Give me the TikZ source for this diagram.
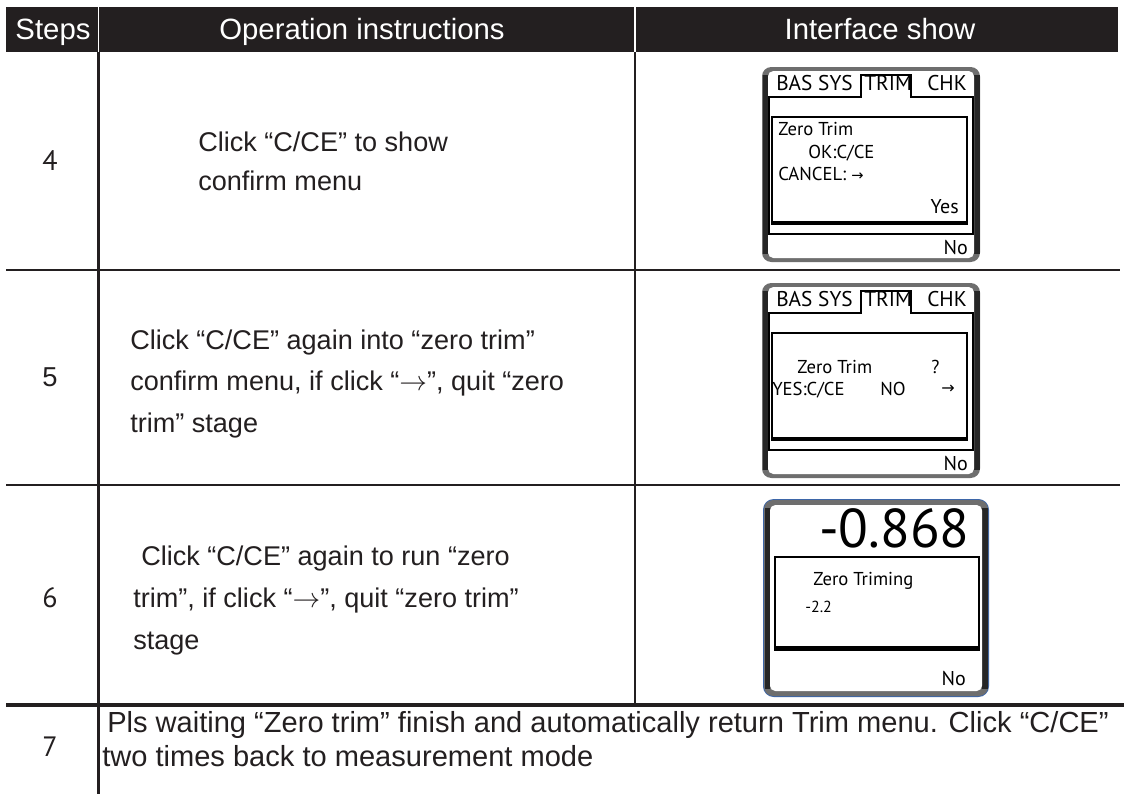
\documentclass[tikz,border=0pt]{standalone}
\usepackage{fontspec}
\setmainfont{Liberation Sans}
\newfontfamily\pan{PT Sans}
\newfontfamily\arr{DejaVu Sans}
\definecolor{ink}{HTML}{231F20}
\definecolor{frameD}{HTML}{262626}
\definecolor{frameG}{HTML}{6E6E6E}
\definecolor{frameB}{HTML}{3D66A8}
\newcommand{\rar}{$\rightarrow$}
\tikzset{
  rule/.style={draw=ink, line width=1.6pt},
  hd/.style={text=white, font=\fontsize{22}{24}\selectfont, anchor=base, inner sep=0pt},
  body/.style={text=ink, font=\fontsize{20.3}{24}\selectfont, anchor=base west, inner sep=0pt},
  wide/.style={text=ink, font=\fontsize{21.8}{24}\selectfont, anchor=base west, inner sep=0pt},
  num/.style={text=ink, font=\pan\fontsize{21}{24}\selectfont, anchor=base, inner sep=0pt},
  tabt/.style={font=\pan\fontsize{16}{18}\selectfont, anchor=base west, inner sep=0pt},
  dlg/.style={font=\pan\fontsize{14}{16}\selectfont, anchor=base west, inner sep=0pt},
  dlge/.style={font=\pan\fontsize{15}{16}\selectfont, anchor=base east, inner sep=0pt},
  thinl/.style={draw=black, line width=0.8pt},
}
\begin{document}
\begin{tikzpicture}[x=0.75pt,y=-0.75pt]
\useasboundingbox (0,0) rectangle (1124,794);
\fill[white] (0,0) rectangle (1124,794);

% header
\fill[ink] (6,7) rectangle (1118,52);
\draw[white, line width=0.9pt] (98.5,7) -- (98.5,52);
\draw[white, line width=0.9pt] (635,7) -- (635,52);
\node[hd] (hsteps) at (53,39) {Steps};
\node[hd] (hops) at (362,39) {Operation instructions};
\node[hd] (hint) at (880,39) {Interface show};

% grid
\draw[rule] (6,270) -- (1120,270);
\draw[rule] (6,485) -- (1120,485);
\draw[draw=ink, line width=2.3pt] (6,705) -- (1124,705);
\draw[rule] (98.5,52) -- (98.5,794);
\draw[rule] (635,52) -- (635,705);

% step numbers
\node[num] (n4) at (50,170) {4};
\node[num, font=\fontsize{20.5}{24}\selectfont] (n5) at (50,386) {5};
\node[num] (n6) at (50,607) {6};
\node[num] (n7) at (50,756) {7};

% instructions
\node[body] (t4a) at (198,151) {Click “C/CE” to show};
\node[body] (t4b) at (198,190) {confirm menu};
\node[body] (t5a) at (130,349) {Click “C/CE” again into “zero trim”};
\node[body] (t5b) at (130,390) {confirm menu, if click “\rar”, quit “zero};
\node[body] (t5c) at (130,432) {trim” stage};
\node[body] (t6a) at (141,565) {Click “C/CE” again to run “zero};
\node[body] (t6b) at (133,607) {trim”, if click “\rar”, quit “zero trim”};
\node[body] (t6c) at (133,649) {stage};
\node[wide] (t7a) at (107,732) {Pls waiting “Zero trim” finish and automatically return Trim menu. Click “C/CE”};
\node[wide] (t7b) at (102,766) {two times back to measurement mode};

% ---- panel 1 and panel 2 (same frame) ----
\foreach \dy in {0,216} {
\begin{scope}[shift={(0,\dy)}]
  \fill[frameG, rounded corners=7] (762,67) rectangle (980,262);
  \fill[frameD] (762.5,75) rectangle (768,254);
  \fill[frameD] (974,75) rectangle (979.5,254);
  \fill[white, rounded corners=4] (768,71) rectangle (974,258);
  \draw[thinl] (911,97) -- (911,75) -- (861,75) -- (861,97) -- (769,97) -- (769,234) -- (973,234) -- (973,97) -- cycle;
  \draw[thinl] (772,117) rectangle (967,224);
  \draw[black, line width=2.4pt] (771,223) -- (968,223);
  \draw[black, line width=1.4pt] (967,117) -- (967,224);
\end{scope}
}
% panel 1 texts
\node[tabt] (p1bas) at (776,90) {BAS SYS};
\node[tabt] (p1trim) at (864,90) {TRIM};
\node[tabt] (p1chk) at (927,90) {CHK};
\node[dlg] (p1zt) at (778,135) {Zero Trim};
\node[dlg] (p1ok) at (808,158) {OK:C/CE};
\node[dlg] (p1cn) at (778,180) {CANCEL: {\arr\fontsize{11}{12}\selectfont →}};
\node[dlge] (p1yes) at (959,213) {Yes};
\node[dlge] (p1no) at (968,254) {No};
% panel 2 texts
\node[tabt] (p2bas) at (776,306) {BAS SYS};
\node[tabt] (p2trim) at (864,306) {TRIM};
\node[tabt] (p2chk) at (927,306) {CHK};
\node[dlg] (p2zt) at (797,373) {Zero Trim};
\node[dlg] (p2q) at (931,373) {?};
\node[dlg] (p2yes) at (772,395) {YES:C/CE};
\node[dlg] (p2nox) at (880,395) {NO};
\node[dlg] (p2arr) at (941,393) {\arr\fontsize{12}{12}\selectfont →};
\node[dlge] (p2no) at (968,470) {No};

% ---- panel 3 ----
\fill[frameB, rounded corners=8] (763,499) rectangle (989,697);
\fill[frameG, rounded corners=7] (764,500) rectangle (988,696);
\fill[frameD] (764.5,508) rectangle (770,689);
\fill[frameD] (982,508) rectangle (987.5,689);
\fill[white, rounded corners=4] (770,505) rectangle (982,691);
\draw[thinl] (775,557) rectangle (979,650);
\draw[black, line width=2.4pt] (774,648) -- (980,648);
\draw[black, line width=1.2pt] (979,557) -- (979,650);
\node[font=\pan\fontsize{41}{44}\selectfont, anchor=base east, inner sep=0pt] (p3val) at (970,547) {-0.868};
\node[dlg] (p3zt) at (813,585) {Zero Triming};
\node[dlg, font=\pan\fontsize{12}{14}\selectfont] (p3v) at (805,612) {-2.2};
\node[dlge] (p3no) at (966,685) {No};
\end{tikzpicture}
\end{document}
